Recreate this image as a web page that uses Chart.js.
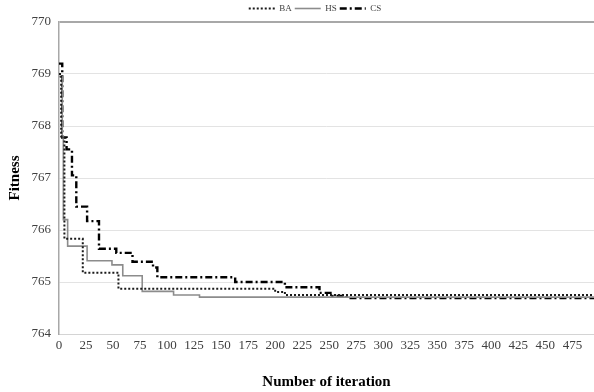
<!DOCTYPE html>
<html>
<head>
<meta charset="utf-8">
<script src="https://cdn.jsdelivr.net/npm/chart.js@4/dist/chart.umd.min.js"></script>
<style>
  html, body { margin: 0; padding: 0; background: #ffffff; overflow: hidden; }
  #wrap { position: relative; width: 594px; height: 392px; }
</style>
</head>
<body>
<div id="wrap"><canvas id="c" width="594" height="392"></canvas></div>
<script>
// ---- data (iteration where a new best is found, fitness value) ----
const seriesNames = ['BA', 'HS', 'CS'];

const baIter = [0, 2, 5, 22, 55, 200, 209, 499];
const baFit  = [769.0, 767.8, 765.83, 765.18, 764.87, 764.81, 764.75, 764.75];

const hsIter = [0, 3, 4, 8, 26, 49, 59, 77, 106, 130, 499];
const hsFit  = [768.95, 767.8, 766.2, 765.69, 765.41, 765.33, 765.12, 764.82, 764.75, 764.71, 764.71];

const csIter = [0, 3, 7, 12, 16, 26, 37, 53, 68, 87, 91, 163, 209, 241, 253, 266, 499];
const csFit  = [769.2, 767.78, 767.55, 767.05, 766.45, 766.17, 765.64, 765.56, 765.39, 765.28, 765.09, 765.0, 764.9, 764.79, 764.73, 764.69, 764.69];

const yTicks = [764, 765, 766, 767, 768, 769, 770];
const xTickStep = 25;

function pts(xs, ys) { return xs.map((x, i) => ({ x: x, y: ys[i] })); }

const serif = "'Liberation Serif', 'Times New Roman', serif";

const legendShift = {
  id: 'legendShift',
  afterLayout(chart) {
    const lg = chart.legend;
    if (lg) { lg.left += 16; lg.right += 16; lg.top += 1; lg.bottom += 1; }
  }
};

new Chart(document.getElementById('c'), {
  type: 'line',
  data: {
    datasets: [
      { label: seriesNames[0], data: pts(baIter, baFit), borderColor: '#1a1a1a', borderWidth: 2,
        borderDash: [2, 2], stepped: true, pointRadius: 0, fill: false },
      { label: seriesNames[1], data: pts(hsIter, hsFit), borderColor: '#8c8c8c', borderWidth: 1.6,
        stepped: true, pointRadius: 0, fill: false },
      { label: seriesNames[2], data: pts(csIter, csFit), borderColor: '#000000', borderWidth: 2.4,
        borderDash: [7, 3, 2, 3], stepped: true, pointRadius: 0, fill: false }
    ]
  },
  plugins: [legendShift],
  options: {
    responsive: false,
    animation: false,
    layout: { padding: { top: 0, right: 0, bottom: 1, left: 4 } },
    plugins: {
      tooltip: { enabled: false },
      legend: {
        position: 'top',
        align: 'center',
        labels: {
          usePointStyle: true,
          pointStyle: 'line',
          pointStyleWidth: 26,
          boxHeight: 8,
          padding: 3,
          color: '#404040',
          font: { family: serif, size: 9 },
          generateLabels: (chart) => {
            const items = Chart.defaults.plugins.legend.labels.generateLabels(chart);
            items.forEach((it) => {
              const ds = chart.data.datasets[it.datasetIndex];
              it.lineDash = ds.borderDash || [];
              it.lineWidth = ds.borderWidth;
              it.strokeStyle = ds.borderColor;
            });
            return items;
          }
        }
      }
    },
    scales: {
      x: {
        type: 'linear',
        min: 0,
        max: 495,
        afterFit: (scale) => { scale.height = 57; },
        grid: { display: false, drawTicks: false },
        border: { display: true, color: '#d4d4d4', width: 1, dash: [2, 1] },
        ticks: {
          stepSize: xTickStep,
          includeBounds: false,
          autoSkip: false,
          maxRotation: 0,
          padding: 4,
          color: '#404040',
          font: { family: serif, size: 13 }
        },
        title: {
          display: true,
          text: 'Number of iteration',
          color: '#000000',
          font: { family: serif, size: 15, weight: 'bold' },
          padding: { top: 18, bottom: 0 }
        }
      },
      y: {
        min: 764,
        max: 770,
        afterBuildTicks: (scale) => { scale.ticks = yTicks.map(v => ({ value: v })); },
        afterFit: (scale) => { scale.width = 55; },
        grid: {
          color: (ctx) => ctx.tick && ctx.tick.value === 770 ? '#a8a8a8' : (ctx.tick && ctx.tick.value === 764 ? 'rgba(0,0,0,0)' : '#e3e3e3'),
          lineWidth: (ctx) => ctx.tick && ctx.tick.value === 770 ? 2 : 1,
          drawTicks: false
        },
        border: { display: true, color: '#a8a8a8', width: 1.5 },
        ticks: {
          padding: 8,
          color: '#404040',
          font: { family: serif, size: 13 }
        },
        title: {
          display: true,
          text: 'Fitness',
          color: '#000000',
          font: { family: serif, size: 15, weight: 'bold' },
          padding: { top: 2, bottom: 4 }
        }
      }
    }
  }
});
</script>
</body>
</html>
